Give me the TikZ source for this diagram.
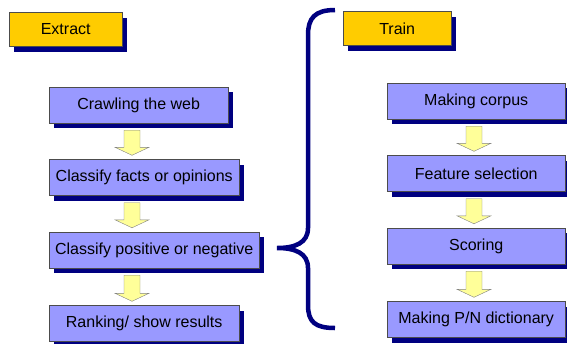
\documentclass[tikz,border=0pt]{standalone}
\usepackage{fontspec}
\setmainfont{Liberation Sans}
\usetikzlibrary{shadows,calc}

\definecolor{boxblue}{RGB}{153,153,255}
\definecolor{navyshade}{RGB}{0,0,128}
\definecolor{titlegold}{RGB}{255,204,0}
\definecolor{arrowyellow}{RGB}{255,255,153}

\begin{document}
\begin{tikzpicture}[x=1pt,y=-1pt,
  stage/.style={draw=black!70,fill=boxblue,minimum height=36pt,inner sep=0,anchor=west,
    font=\fontsize{16}{19}\selectfont,
    drop shadow={shadow xshift=5pt,shadow yshift=-5pt,fill=navyshade,opacity=1}},
  title/.style={stage,fill=titlegold,minimum height=34pt},
  blockarrow/.style={draw=gray,fill=arrowyellow,line join=miter},
  brace/.style={draw=navyshade,line width=4.5pt}]
\useasboundingbox (0,0) rectangle (567,343);

% left column
\node[title] (extract) at (9,29.5) [minimum width=113pt] {Extract};
\node[stage] (crawl) at (49,105) [minimum width=179pt] {Crawling the web};
\node[stage] (facts) at (49,177.5) [minimum width=190pt] {Classify facts or opinions};
\node[stage] (posneg) at (49,250) [minimum width=210pt] {Classify positive or negative};
\node[stage] (rank) at (49,323.5) [minimum width=190pt] {Ranking/ show results};

% right column
\node[title] (train) at (343,28.5) [minimum width=108pt] {Train};
\node[stage] (corpus) at (387,101) [minimum width=178pt] {Making corpus};
\node[stage] (feat) at (387,173.5) [minimum width=178pt] {Feature selection};
\node[stage] (score) at (387,246) [minimum width=178pt] {Scoring};
\node[stage] (dict) at (387,319.5) [minimum width=178pt] {Making P/N dictionary};

\foreach \a/\b/\dx in {crawl/facts/83, facts/posneg/83, posneg/rank/83,
                       corpus/feat/87, feat/score/87, score/dict/87}{%
  \draw[blockarrow] ($(\a.south west)+(\dx-8,7)$) -- ($(\a.south west)+(\dx+8,7)$)
    -- ($(\b.north west)+(\dx+8,-12)$) -- ($(\b.north west)+(\dx+17,-12)$)
    -- ($(\b.north west)+(\dx,-4)$) -- ($(\b.north west)+(\dx-17,-12)$)
    -- ($(\b.north west)+(\dx-8,-12)$) -- cycle;}

% brace
\draw[brace] (335,10) .. controls (315,10) and (308,18) .. (308,35) -- (308,228)
  .. controls (308,243) and (295,248) .. (277,248)
  .. controls (295,248) and (308,253) .. (308,268) -- (308,305)
  .. controls (308,322) and (315,328) .. (335,328);
\end{tikzpicture}
\end{document}
